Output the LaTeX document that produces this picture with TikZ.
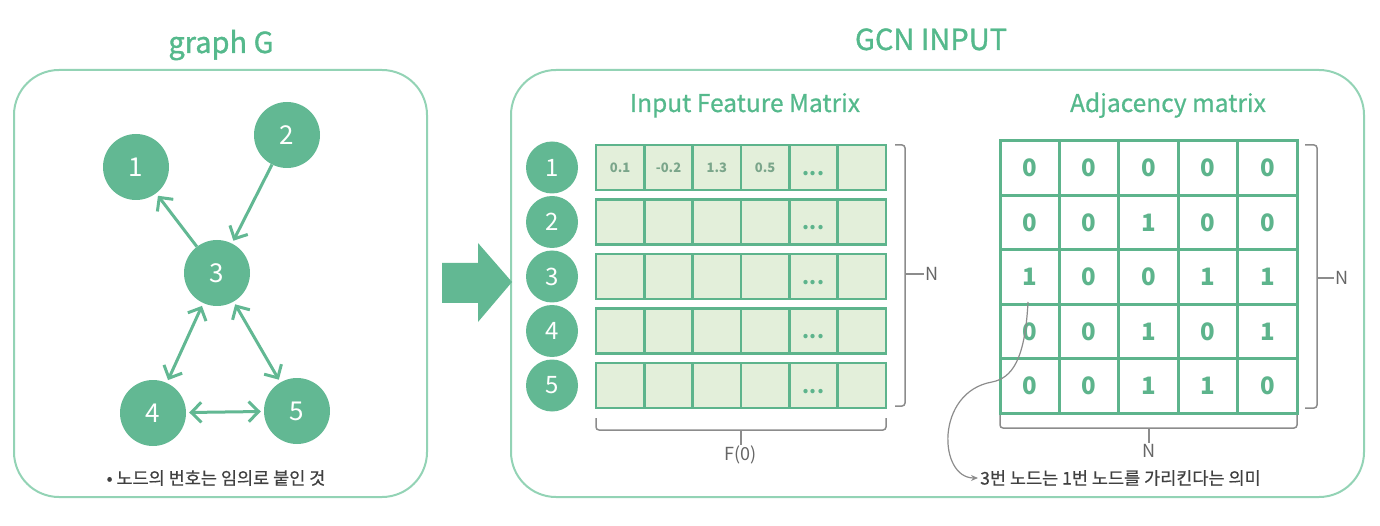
\documentclass[tikz,border=0pt]{standalone}
\usepackage{fontspec}
\setmainfont{Noto Sans CJK KR}
\newfontfamily\demigras[FakeBold=1.2]{Noto Sans CJK KR}
\newfontfamily\legergras[FakeBold=0.6]{Noto Sans CJK KR}
\usetikzlibrary{arrows.meta,calc,positioning}

\definecolor{vert}{HTML}{62B893}
\definecolor{trait}{HTML}{5DB48C}
\definecolor{clair}{HTML}{E3EFDA}
\definecolor{bord}{HTML}{93D3B5}
\definecolor{titrevert}{HTML}{55B98C}
\definecolor{gris}{HTML}{8C8C8C}
\definecolor{texte}{HTML}{404040}
\definecolor{valvert}{HTML}{7AA58A}

\tikzset{
  cadre/.style={draw=bord,line width=2pt,rounded corners=45pt},
  titre/.style={text=titrevert,anchor=base,font=\demigras\fontsize{29}{33}\selectfont},
  soustitre/.style={text=titrevert,anchor=base,font=\legergras\fontsize{24.5}{28}\selectfont},
  sommet/.style={circle,fill=vert,minimum size=66pt,inner sep=0pt,text=white,font=\fontsize{26}{30}\selectfont},
  rond/.style={circle,fill=vert,minimum size=52pt,inner sep=0pt,text=white,font=\fontsize{24}{28}\selectfont},
  pointe/.tip={Straight Barb[length=10pt,width=20pt,line width=3pt]},
  arete/.style={draw=vert,line width=3pt,shorten >=3pt,-pointe},
  arete2/.style={arete,shorten <=3pt,pointe-pointe},
  case/.style={draw=trait,fill=clair,line width=2.5pt,minimum width=48.33pt,minimum height=45pt,inner sep=0pt},
  cellule/.style={draw=trait,fill=white,line width=3pt,minimum width=59.4pt,minimum height=54.4pt,inner sep=0pt,text=trait,font=\bfseries\fontsize{24}{28}\selectfont},
  valeur/.style={text=valvert,font=\bfseries\fontsize{13}{15}\selectfont},
  points/.style={text=trait,font=\bfseries\fontsize{20}{22}\selectfont},
  accolade/.style={draw=gris,line width=1.5pt,rounded corners=3pt},
  etiq/.style={text=texte!80,inner sep=1pt,font=\fontsize{18}{22}\selectfont},
  note/.style={text=texte,font=\legergras\fontsize{17.5}{21}\selectfont}
}

\begin{document}
\begin{tikzpicture}[x=1pt,y=-1pt]
\useasboundingbox (0,0) rectangle (1380,526);
% Cadres
\draw[cadre] (14,70) rectangle (427,497);
\draw[cadre] (511,70) rectangle (1364,497);
% Titres
\node[titre] (tg) at (221,53) {graph G};
\node[titre] (tgcn) at (931,50) {GCN INPUT};
\node[soustitre] (tfeat) at (745,112) {Input Feature Matrix};
\node[soustitre] (tadj) at (1168,112) {Adjacency matrix};

% Graphe
\node[sommet] (n1) at (136,167) {1};
\node[sommet] (n2) at (287,135) {2};
\node[sommet] (n3) at (217,273) {3};
\node[sommet] (n4) at (153,413) {4};
\node[sommet] (n5) at (297,411) {5};
\draw[arete] (n3) -- (n1);
\draw[arete] (n2) -- (n3);
\draw[arete2] (n3) -- (n4);
\draw[arete2] (n3) -- (n5);
\draw[arete2] (n4) -- (n5);
\node[note] (note1) at (216,478) {• 노드의 번호는 임의로 붙인 것};

% Flèche
\fill[vert] (442,263) -- (478,263) -- (478,243) -- (512,282) -- (478,322) -- (478,303) -- (442,303) -- cycle;

% Matrice des features
\foreach \i in {1,...,5}{
  \node[rond] (r\i) at (552,{167.5+(\i-1)*54.5}) {\i};
  \foreach \j in {1,...,6}
    \node[case] (f\i\j) at ({620.17+(\j-1)*48.33},{167.5+(\i-1)*54.5}) {};
  \node[points] at ([yshift=-6pt]f\i5) {...};
}
\foreach \j/\v in {1/0.1,2/-0.2,3/1.3,4/0.5}
  \node[valeur] at (f1\j) {\v};
\draw[accolade] (895,145) -- (905,145) -- (905,406) -- (895,406);
\node[etiq,anchor=west] (nf) at (924,274) {N};
\draw[draw=gris,line width=1.5pt] (905,274) -- (nf.west);
\draw[accolade] (596,418) -- (596,430) -- (886,430) -- (886,418);
\node[etiq,anchor=north] (f0) at (741,445) {F(0)};
\draw[draw=gris,line width=1.5pt] (741,430) -- (f0.north);

% Matrice d'adjacence
\foreach \ligne [count=\i] in {{0,0,0,0,0},{0,0,1,0,0},{1,0,0,1,1},{0,0,1,0,1},{0,0,1,1,0}}
  \foreach \v [count=\j] in \ligne
    \node[cellule] (a\i\j) at ({1029.7+(\j-1)*59.4},{168.2+(\i-1)*54.4}) {\v};
\draw[accolade] (1305,145) -- (1317,145) -- (1317,408) -- (1305,408);
\node[etiq,anchor=west] (na) at (1334,278) {N};
\draw[draw=gris,line width=1.5pt] (1317,278) -- (na.west);
\draw[accolade] (1000,415) -- (1000,428) -- (1297,428) -- (1297,415);
\node[etiq,anchor=north] (nb) at (1149,443) {N};
\draw[draw=gris,line width=1.5pt] (1149,428) -- (nb.north);

% Note
\coordinate (depart) at (1028,302);
\node[note,anchor=west,inner sep=2pt] (note2) at (978,478) {3번 노드는 1번 노드를 가리킨다는 의미};
\draw[draw=gris,line width=1.2pt,-{Stealth[length=7pt,width=6pt]}] (depart) .. controls (1025,360) and (1012,378) .. (992,382) .. controls (935,392) and (938,478) .. (note2.west);
\end{tikzpicture}
\end{document}
